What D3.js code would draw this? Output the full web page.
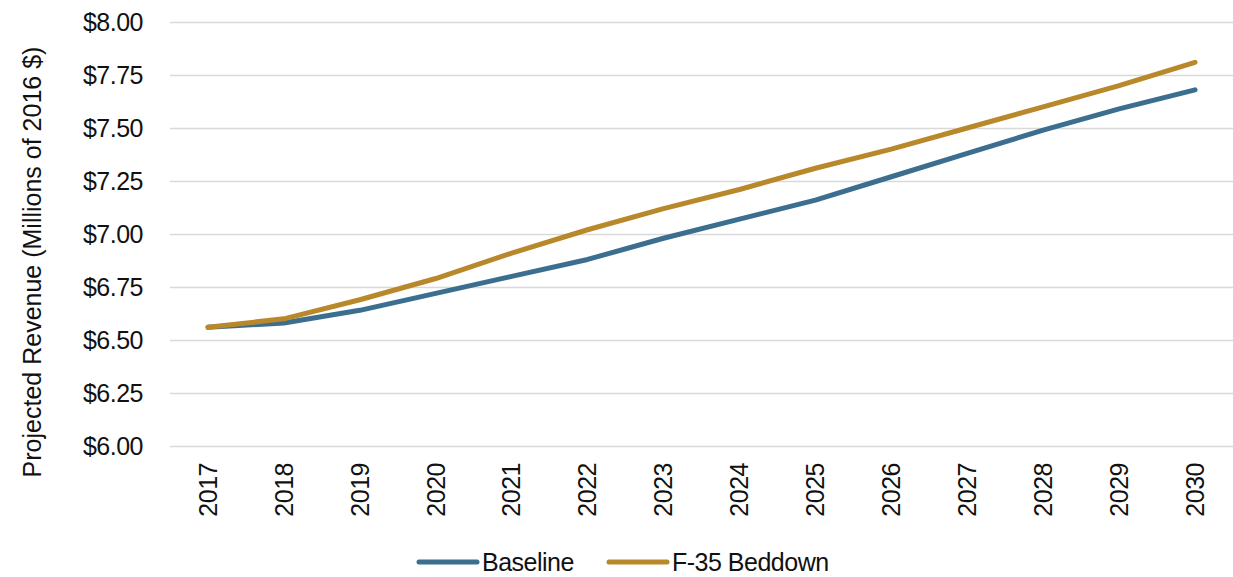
<!DOCTYPE html>
<html>
<head>
<meta charset="utf-8">
<script src="https://cdn.jsdelivr.net/npm/d3@7"></script>
<style>
  html, body { margin: 0; padding: 0; background: #fff; }
  svg { display: block; }
  text { font-family: "Liberation Sans", Arial, sans-serif; fill: #111; }
</style>
</head>
<body>
<svg id="chart" width="1233" height="577"></svg>
<script>
// Projected revenue by year, millions of 2016 dollars
const years = ["2017","2018","2019","2020","2021","2022","2023","2024","2025","2026","2027","2028","2029","2030"];
const baseline = [6.56, 6.58, 6.64, 6.72, 6.80, 6.88, 6.98, 7.07, 7.16, 7.27, 7.38, 7.49, 7.59, 7.68];
const beddown  = [6.56, 6.60, 6.69, 6.79, 6.91, 7.02, 7.12, 7.21, 7.31, 7.40, 7.50, 7.60, 7.70, 7.81];
const yTicks = [6.00, 6.25, 6.50, 6.75, 7.00, 7.25, 7.50, 7.75, 8.00];
const seriesNames = ["Baseline", "F-35 Beddown"];
const seriesColors = ["#3b6e8f", "#b8882a"];

const FONT = '"Liberation Sans", Arial, sans-serif';
const FS = 25;
const svg = d3.select("#chart");
const plot = { left: 170, right: 1233, top: 22, bottom: 446 };

const x = d3.scaleBand().domain(years).range([plot.left, plot.right]);
const y = d3.scaleLinear().domain([6, 8]).range([plot.bottom, plot.top]);

// Horizontal gridlines with dollar labels
const yAxis = d3.axisLeft(y)
  .tickValues(yTicks)
  .tickSize(-(plot.right - plot.left))
  .tickPadding(27)
  .tickFormat(d => "$" + d3.format(".2f")(d));

const gy = svg.append("g")
  .attr("transform", `translate(${plot.left},0)`)
  .call(yAxis);
gy.select(".domain").remove();
gy.selectAll(".tick line").attr("stroke", "#d9d9d9").attr("stroke-width", 1.5);
gy.selectAll(".tick text").attr("font-size", FS).attr("fill", "#111")
  .style("font-family", FONT)
  .attr("letter-spacing", -0.5);

// Year labels, rotated
const xAxis = d3.axisBottom(x).tickSize(0).tickPadding(0);
const gx = svg.append("g")
  .attr("transform", `translate(0,${plot.bottom})`)
  .call(xAxis);
gx.select(".domain").remove();
gx.selectAll(".tick text")
  .attr("font-size", FS)
  .attr("fill", "#111")
  .style("font-family", FONT)
  .attr("letter-spacing", -0.5)
  .attr("text-anchor", "end")
  .attr("dy", "0.35em")
  .attr("transform", "translate(0,17) rotate(-90)")
  .attr("x", 0).attr("y", 0);

// Axis title
svg.append("text")
  .attr("transform", "translate(41,262) rotate(-90)")
  .attr("text-anchor", "middle")
  .attr("font-size", FS)
  .text("Projected Revenue (Millions of 2016 $)");

// Series lines
const line = d3.line()
  .x((d, i) => x(years[i]) + x.bandwidth() / 2)
  .y(d => y(d));

[baseline, beddown].forEach((vals, k) => {
  svg.append("path")
    .datum(vals)
    .attr("fill", "none")
    .attr("stroke", seriesColors[k])
    .attr("stroke-width", 5)
    .attr("stroke-linecap", "round")
    .attr("stroke-linejoin", "round")
    .attr("d", line);
});

// Legend
const legendX = [419, 609];
const legend = svg.append("g").attr("transform", "translate(0,562)");
seriesNames.forEach((name, k) => {
  const g = legend.append("g").attr("transform", `translate(${legendX[k]},0)`);
  g.append("line")
    .attr("x1", 0).attr("x2", 58).attr("y1", 0).attr("y2", 0)
    .attr("stroke", seriesColors[k]).attr("stroke-width", 5).attr("stroke-linecap", "round");
  g.append("text")
    .attr("x", 63).attr("y", 0).attr("dy", "0.35em")
    .attr("font-size", FS)
    .attr("letter-spacing", -0.5)
    .text(name);
});
</script>
</body>
</html>
